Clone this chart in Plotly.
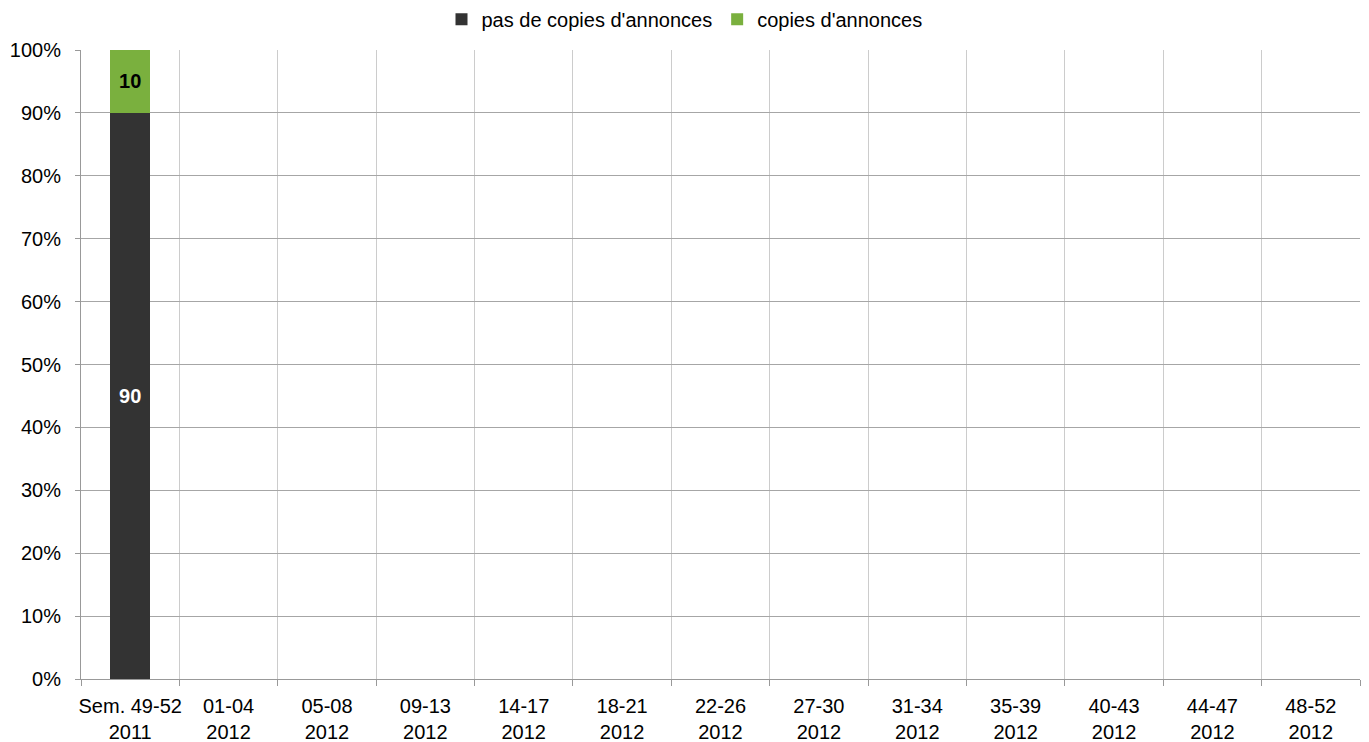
import plotly.graph_objects as go

categories = ["Sem. 49-52<br>2011", "01-04<br>2012", "05-08<br>2012", "09-13<br>2012",
              "14-17<br>2012", "18-21<br>2012", "22-26<br>2012", "27-30<br>2012",
              "31-34<br>2012", "35-39<br>2012", "40-43<br>2012", "44-47<br>2012",
              "48-52<br>2012"]
no_copies = [90] + [None] * 12
copies = [10] + [None] * 12
y_ticks = [0, 10, 20, 30, 40, 50, 60, 70, 80, 90, 100]
y_tick_labels = [f"{v}%" for v in y_ticks]

FONT = "Liberation Sans, Arial, sans-serif"

fig = go.Figure()
fig.add_trace(go.Bar(
    x=categories, y=no_copies, name="pas de copies d'annonces",
    marker=dict(color="#333333", line=dict(width=0)),
    text=[str(v) if v is not None else "" for v in no_copies],
    textposition="inside", insidetextanchor="middle",
    textfont=dict(color="white", size=20, family=FONT, weight="bold"),
))
fig.add_trace(go.Bar(
    x=categories, y=copies, name="copies d'annonces",
    marker=dict(color="#7ab03e", line=dict(width=0)),
    text=[str(v) if v is not None else "" for v in copies],
    textposition="inside", insidetextanchor="middle",
    textfont=dict(color="black", size=20, family=FONT, weight="bold"),
))

fig.update_layout(
    barmode="stack",
    bargap=0.59,
    width=1369, height=742,
    margin=dict(l=81, r=9, t=50, b=63, autoexpand=False),
    paper_bgcolor="white", plot_bgcolor="white",
    font=dict(family=FONT, size=20, color="black"),
    showlegend=True,
    legend=dict(orientation="h", xref="container", x=0.5, xanchor="center",
                y=1.049, yanchor="middle",
                font=dict(size=20), itemwidth=30, tracegroupgap=0,
                traceorder="normal"),
)
fig.update_xaxes(
    type="category", tickson="boundaries", automargin=False,
    showgrid=True, gridcolor="#cccccc", gridwidth=1,
    showline=True, linecolor="#999999", linewidth=1,
    ticks="outside", ticklen=6, tickcolor="#999999",
    tickfont=dict(size=20), tickangle=0, ticklabelstandoff=9,
)
fig.update_yaxes(
    range=[0, 100], tickmode="array", tickvals=y_ticks, ticktext=y_tick_labels,
    automargin=False,
    showgrid=True, gridcolor="#a6a6a6", gridwidth=1,
    showline=True, linecolor="#999999", linewidth=1,
    ticks="outside", ticklen=5, tickcolor="#999999",
    tickfont=dict(size=20), zeroline=False, ticklabelstandoff=10,
)

fig.write_html("out.html", config={"displayModeBar": False},
               post_script="document.body.style.margin='0px';")
